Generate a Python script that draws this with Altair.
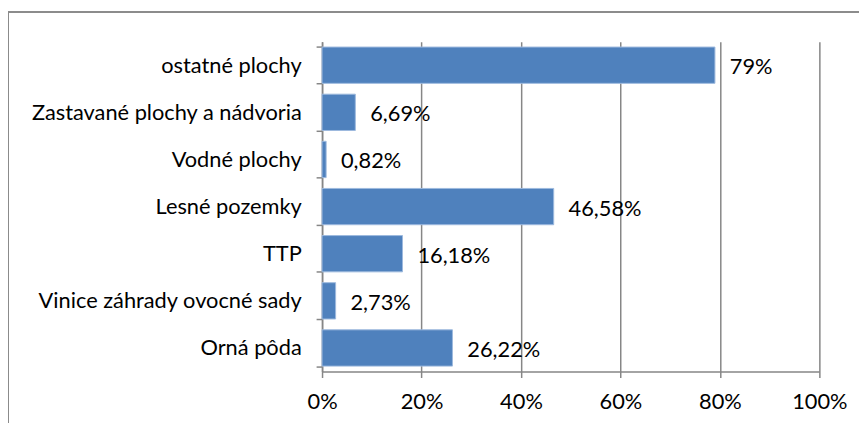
import altair as alt
import pandas as pd

categories = ["ostatné plochy", "Zastavané plochy a nádvoria", "Vodné plochy",
              "Lesné pozemky", "TTP", "Vinice záhrady ovocné sady", "Orná pôda"]
values = [79, 6.69, 0.82, 46.58, 16.18, 2.73, 26.22]
x_ticks = [0, 20, 40, 60, 80, 100]


def fmt(v):
    if float(v).is_integer():
        return f"{int(v)}%"
    return f"{v:.2f}".replace(".", ",") + "%"


df = pd.DataFrame({"cat": categories, "val": values, "lab": [fmt(v) for v in values]})

FONT = "Lato"
FS = 22
GRID = "#868686"

y_enc = alt.Y("cat:N", sort=categories, title=None,
              scale=alt.Scale(paddingInner=0.23, paddingOuter=0.115),
              axis=alt.Axis(tickBand="extent", tickSize=6, tickColor=GRID, domainColor=GRID,
                            labelPadding=15, labelFontSize=FS, labelFont=FONT, labelLimit=400,
                            labelColor="black", domainWidth=1.5, tickWidth=1.5))
x_enc = alt.X("val:Q", title=None, scale=alt.Scale(domain=[0, 100], nice=False),
              axis=alt.Axis(values=x_ticks, labelExpr="datum.value + '%'", grid=True,
                            gridColor=GRID, gridWidth=1.5, tickColor=GRID, tickSize=6,
                            domainColor=GRID, domainWidth=1.5, tickWidth=1.5,
                            labelFlush=False, labelOverlap=False,
                            labelPadding=14, labelFontSize=FS, labelFont=FONT,
                            labelColor="black"))

bars = alt.Chart(df).mark_bar(color="#4F81BD", stroke="#9DB9DE", strokeWidth=1).encode(
    y=y_enc, x=x_enc)
text = alt.Chart(df).mark_text(align="left", baseline="middle", dx=15, dy=2,
                               fontSize=FS, font=FONT, color="black").encode(
    y=alt.Y("cat:N", sort=categories), x="val:Q", text="lab:N")

frame_top = alt.Chart(df).mark_rule(color="#8c8c8c", strokeWidth=1.5).encode(
    x=alt.value(-317), x2=alt.value(560), y=alt.value(-30))
frame_left = alt.Chart(df).mark_rule(color="#8c8c8c", strokeWidth=1.5).encode(
    x=alt.value(-317), y=alt.value(-30), y2=alt.value(400))

chart = alt.layer(bars, text, frame_top, frame_left).properties(
    width=502, height=333,
    padding={"left": 317, "top": 32, "right": 40, "bottom": 50},
    autosize=alt.AutoSizeParams(type="none"),
    background="white",
).configure_view(stroke=None)

chart.save("out.html", embed_options={"renderer": "svg", "actions": False})
